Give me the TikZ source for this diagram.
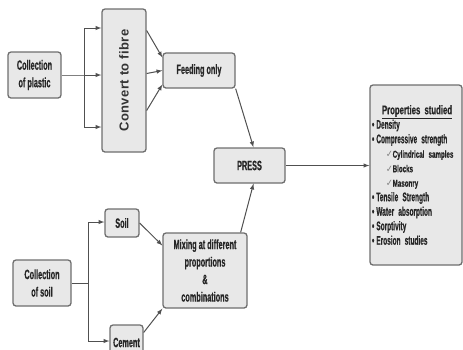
\documentclass[tikz,border=0pt]{standalone}
\usepackage{fontspec}
\setmainfont{Liberation Sans}
\newfontfamily\narrowfont{Liberation Sans Bold}[FakeStretch=0.54,FakeBold=0.6]
\newfontfamily\listfont{Liberation Sans Bold}[FakeStretch=0.52,FakeBold=0.6]
\newfontfamily\headfont{Liberation Sans Bold}[FakeStretch=0.62,FakeBold=0.6]
\newfontfamily\symfont{DejaVu Sans}[FakeStretch=0.8]
\newfontfamily\widefont{Liberation Sans Bold}[LetterSpace=3]
\usetikzlibrary{arrows}

\definecolor{boxfill}{HTML}{E8E8E8}
\definecolor{boxline}{HTML}{6E6E6E}
\definecolor{wire}{HTML}{505050}

\newcommand\checkline[1]{{\headfont\fontsize{10}{14.5}\selectfont\hspace*{14pt}{\symfont\color{gray}✓}#1}}

\begin{document}
\begin{tikzpicture}[x=1pt,y=-1pt,>=latex,
	box/.style={draw=boxline,fill=boxfill,line width=1.3pt,rounded corners=3pt,
		inner sep=0pt,align=center,text=black!85,
		font=\narrowfont\fontsize{13.5}{17.5}\selectfont},
	wire/.style={draw=wire,line width=1pt}]

\useasboundingbox (0,0) rectangle (463,349);

% boxes
\node[box,minimum width=53,minimum height=46] (plastic) at (34.5,75) {Collection\\of plastic};
\node[box,minimum width=44,minimum height=143,
	label={[rotate=90,font=\widefont\fontsize{13}{16}\selectfont,text=black!80]center:Convert to fibre}]
	(fibre) at (124,80.5) {};
\node[box,minimum width=72,minimum height=35] (feed) at (199,70.5) {Feeding only};
\node[box,minimum width=71,minimum height=35] (press) at (249.5,165.5) {PRESS};

\node[box,minimum width=58,minimum height=46] (soilcol) at (42,283) {Collection\\of soil};
\node[box,minimum width=34,minimum height=28] (soil) at (122,223) {Soil};
\node[box,minimum width=33,minimum height=35] (cement) at (126.5,342.5) {Cement};
\node[box,minimum width=84,minimum height=75] (mix) at (205,270.5)
	{Mixing at different\\proportions\\\&\\combinations};

\node[box,minimum width=92,minimum height=180,text width=88,align=left,
	font=\listfont\fontsize{12.5}{14.5}\selectfont] (props) at (416,175)
	{\hspace*{10pt}{\headfont\underline{Properties studied}}\\
	 •\,Density\\
	 •\,Compressive strength\\
	 \checkline{Cylindrical samples}\\
	 \checkline{Blocks}\\
	 \checkline{Masonry}\\
	 •\,Tensile Strength\\
	 •\,Water absorption\\
	 •\,Sorptivity\\
	 •\,Erosion studies\\[18pt]};

% plastic branch
\coordinate (pj) at (84,75);
\coordinate (pt) at (84,28);
\coordinate (pb) at (84,127);
\draw[wire,draw=gray,line width=0.6pt] (plastic) -- (pj);
\draw[wire] (pt) -- (pb);
\draw[wire,->] (pt) -- (pt -| fibre.west);
\draw[wire,->] (pj) -- (pj -| fibre.west);
\draw[wire,->] (pb) -- (pb -| fibre.west);

\draw[wire,->] ([yshift=50pt]fibre.east) -- ([yshift=13pt]feed.west);
\draw[wire,->] ([yshift=7pt]fibre.east) -- ([yshift=0pt]feed.west);
\draw[wire,->] ([yshift=-30pt]fibre.east) -- ([yshift=-14pt]feed.west);

% soil branch
\coordinate (sj) at (88,283);
\coordinate (st) at (88,222);
\coordinate (sb) at (88,341);
\draw[wire] (soilcol) -- (sj);
\draw[wire] (st) -- (sb);
\draw[wire,->] (st) -- (st -| soil.west);
\draw[wire,->] (sb) -- (sb -| cement.west);

\draw[wire,->] (soil.east) -- ([yshift=25pt]mix.west);
\draw[wire,->] ([yshift=10pt]cement.east) -- (mix.south west);

% to press and out
\draw[wire,->] (feed.south east) -- ([xshift=4pt]press.north);
\draw[wire,->] ([xshift=-7pt]mix.north east) -- ([xshift=4pt]press.south);
\draw[wire,->] (press.east) -- (press.east -| props.west);

\end{tikzpicture}
\end{document}
